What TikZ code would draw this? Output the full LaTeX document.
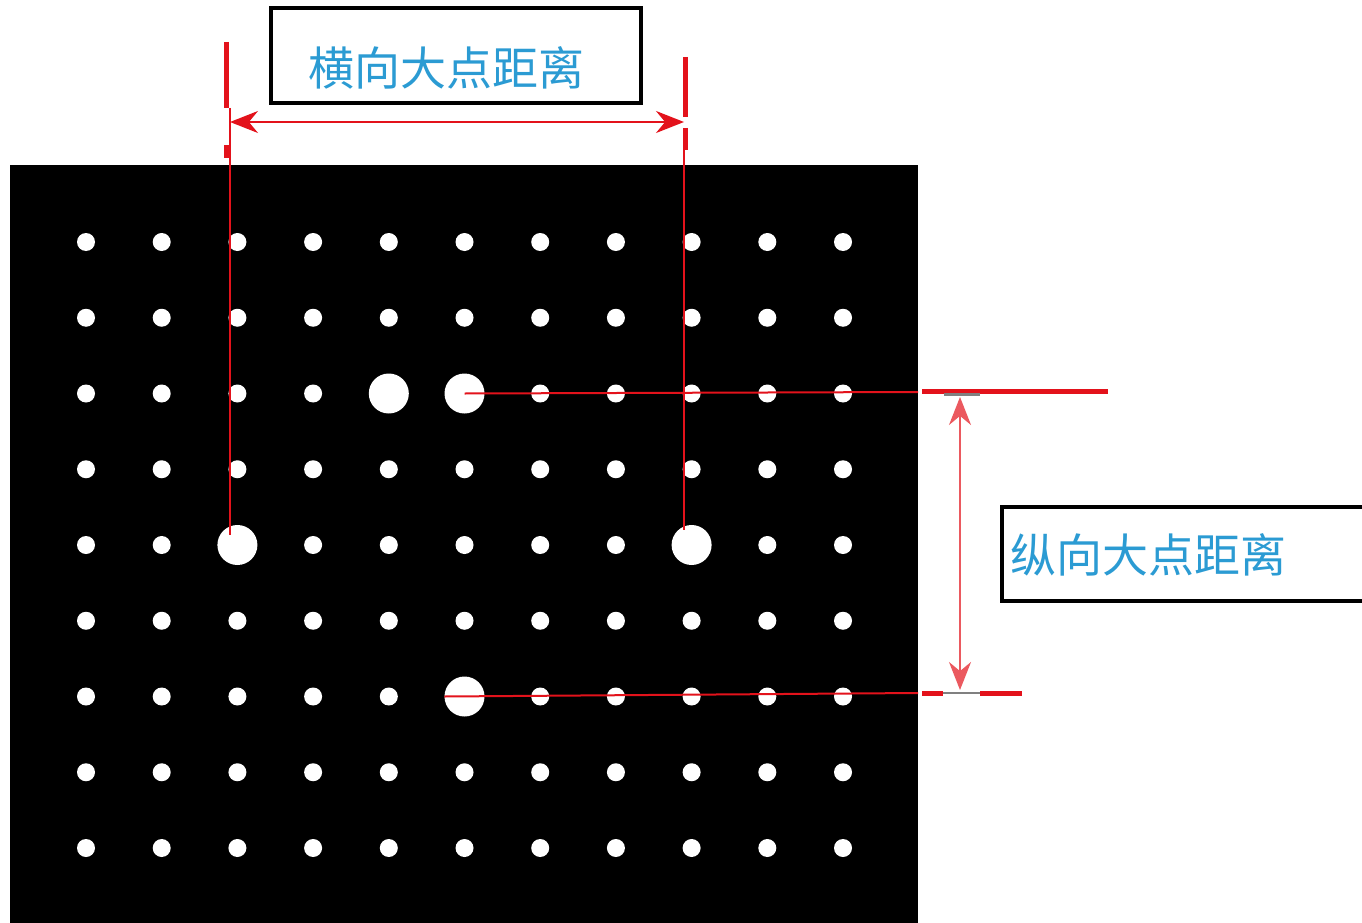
\documentclass[tikz,border=0pt]{standalone}
\usepackage{fontspec}
\newfontfamily\cjk{Noto Sans CJK SC}
\usetikzlibrary{arrows.meta,positioning}
\definecolor{dimred}{HTML}{E3121B}
\definecolor{labelblue}{HTML}{2B9BD3}

\begin{document}
\begin{tikzpicture}[x=1pt,y=-1pt,>={Stealth[length=28pt,width=22pt]},
	dot/.style={circle,fill=white,inner sep=0pt,minimum size=18pt},
	bigdot/.style={circle,fill=white,inner sep=0pt,minimum size=40pt},
	dimline/.style={dimred,line width=2pt},
	dimmark/.style={dimred,line width=5pt},
	labelbox/.style={draw=black,line width=4pt,fill=white,inner sep=0pt},
	labeltext/.style={inner sep=0pt,font=\cjk\fontsize{46}{50}\selectfont,text=labelblue}]
	\useasboundingbox (0,0) rectangle (1362,923);
	\fill[black] (10,165) rectangle (918,923);

	% grid of dots
	\foreach \c in {0,...,10}
		\foreach \r in {0,...,8}
			\node[dot] (d\c-\r) at (86+75.7*\c, 242+75.75*\r) {};
	\node[bigdot] (bigA) at (d4-2) {};
	\node[bigdot] (bigB) at (d5-2) {};
	\node[bigdot] (bigL) at (d2-4) {};
	\node[bigdot] (bigR) at (d8-4) {};
	\node[bigdot] (bigC) at (d5-6) {};

	% horizontal distance
	\coordinate (hl top) at (230,108);
	\coordinate (hl foot) at (230,535);
	\coordinate (hr top) at (684,150);
	\coordinate (hr foot) at (684,530);
	\coordinate (ha) at (230,122);
	\coordinate (hb) at (684,122);
	\draw[dimline] (hl top) -- (hl foot);
	\draw[dimline] (hr top) -- (hr foot);
	\draw[dimmark] (226,42) -- (226,108);
	\draw[dimmark] (226,145) -- (226,158);
	\draw[dimmark] (685,57) -- (685,117);
	\draw[dimmark] (685,128) -- (685,150);
	\draw[dimline,<->,dimred] (ha) -- (hb);
	\node[labelbox,minimum width=370pt,minimum height=95pt] (hbox) at (456,55.5) {};
	\node[labeltext] (htext) at (446,68) {横向大点距离};

	% vertical distance
	\coordinate (vt) at (918,392);
	\coordinate (vb) at (918,693);
	\coordinate (va) at (960,397);
	\coordinate (vc) at (960,690);
	\draw[dimline] (bigB.center) -- (vt);
	\draw[dimline] (bigC.west) -- (vb);
	\draw[dimmark] (922,391) -- (1108,391);
	\draw[gray,line width=3pt] (944,394) -- (980,394);
	\draw[dimmark] (922,693) -- (943,693);
	\draw[dimmark] (980,693) -- (1022,693);
	\draw[gray,line width=2pt] (943,693) -- (980,693);
	\draw[dimline,<->,dimred!70] (va) -- (vc);
	\node[labelbox,anchor=west,minimum width=375pt,minimum height=94pt] (vbox) at (1000,554) {};
	\node[labeltext,anchor=west] (vtext) at (1010,555) {纵向大点距离};
\end{tikzpicture}
\end{document}
